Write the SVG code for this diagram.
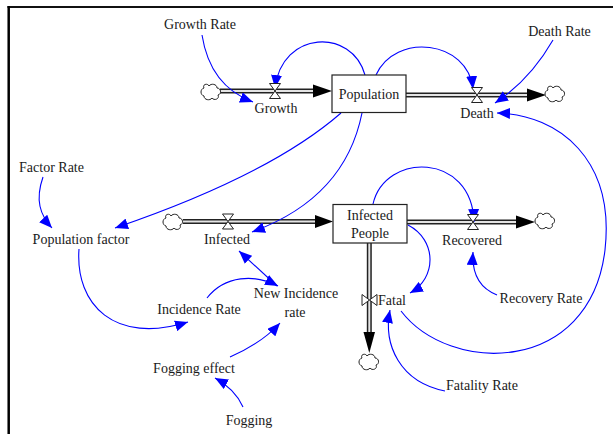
<svg xmlns="http://www.w3.org/2000/svg" width="613" height="434" viewBox="0 0 613 434">
<style>
text{font-family:"Liberation Serif","Times New Roman",serif;font-size:14px;fill:#1a1a1a;text-anchor:middle}
.link{fill:none;stroke:#0000ff;stroke-width:1.1}
.pipeo{fill:none;stroke:#222;stroke-width:5}
.pipei{fill:none;stroke:#e4e4e4;stroke-width:2}
.valve{fill:#fff;stroke:#222;stroke-width:1}
.cloud{fill:#fff;stroke:#222;stroke-width:1}
.stock{fill:#fff;stroke:#222;stroke-width:1.2}
.head{fill:#000}
</style>
<defs>
<marker id="ar" markerUnits="userSpaceOnUse" markerWidth="14" markerHeight="11" refX="13" refY="5.5" orient="auto">
<path d="M0,0 L13,5.5 L0,11 Z" fill="#0000ff"/>
</marker>
<path id="cl" d="M-7,-4 C-9,-8 -3,-9 -2,-6 C0,-9 6,-8 6,-4 C10,-4 11,2 7,3 C9,7 3,9 1,6 C-1,9 -7,8 -7,4 C-11,3 -11,-3 -7,-4 Z"/>
<path id="hv" d="M-5.5,-7.5 L5.5,-7.5 L0,0 Z M0,0 L-5.5,7.5 L5.5,7.5 Z"/>
</defs>
<rect width="613" height="434" fill="#fff"/>
<g id="frame">
<line x1="7.5" y1="7" x2="613" y2="7" stroke="#111" stroke-width="2"/>
<line x1="8.7" y1="6" x2="8.7" y2="434" stroke="#000" stroke-width="2.5"/>
</g>
<g id="flows">
<path class="pipeo" d="M220,91 H316"/><path class="pipei" d="M220,91 H316"/>
<path class="head" d="M313,84.5 L332,91 L313,97.5 Z"/>
<path class="pipeo" d="M406,95 H529"/><path class="pipei" d="M406,95 H529"/>
<path class="head" d="M527,88.5 L546,95 L527,101.5 Z"/>
<path class="pipeo" d="M183,221.5 H317"/><path class="pipei" d="M183,221.5 H317"/>
<path class="head" d="M315,215 L333,221.5 L315,228 Z"/>
<path class="pipeo" d="M407,222 H518"/><path class="pipei" d="M407,222 H518"/>
<path class="head" d="M516,215.5 L535,222 L516,228.5 Z"/>
<path class="pipeo" d="M369.3,243 V334"/><path class="pipei" d="M369.3,243 V334"/>
<path class="head" d="M363.5,332 L369.3,353 L375,332 Z"/>
</g>
<g id="clouds">
<use href="#cl" class="cloud" x="211" y="92"/>
<use href="#cl" class="cloud" x="555" y="94"/>
<use href="#cl" class="cloud" x="173" y="222"/>
<use href="#cl" class="cloud" x="545" y="221"/>
<use href="#cl" class="cloud" x="369" y="362"/>
</g>
<g id="connectors">
<path class="link" marker-end="url(#ar)" d="M202,35 Q210,86 253,102"/>
<path class="link" marker-end="url(#ar)" d="M365,75 C352,28 282,30 275,88"/>
<path class="link" marker-end="url(#ar)" d="M376,75 C395,32 468,40 473,89"/>
<path class="link" marker-end="url(#ar)" d="M553,40 Q530,80 495,103"/>
<path class="link" marker-end="url(#ar)" d="M401,311 C450,375 590,375 605,250 C615,160 560,115 497,113"/>
<path class="link" marker-end="url(#ar)" d="M341,113 Q270,175 115,228"/>
<path class="link" marker-end="url(#ar)" d="M362,113 Q345,198 252,232"/>
<path class="link" marker-end="url(#ar)" d="M373,204 C385,152 472,152 474,222"/>
<path class="link" marker-end="url(#ar)" d="M408,225 C437,240 437,278 410,293"/>
<path class="link" marker-end="url(#ar)" d="M497,295 Q471,285 473,252"/>
<path class="link" marker-end="url(#ar)" d="M445,391 C400,382 383,345 390,310"/>
<path class="link" marker-end="url(#ar)" d="M43,177 C35,200 40,215 52,228"/>
<path class="link" marker-end="url(#ar)" d="M79,249 C75,305 115,345 188,322"/>
<path class="link" marker-end="url(#ar)" d="M207,298 C225,275 255,274 278,286"/>
<path class="link" marker-end="url(#ar)" d="M277,286 L239,251"/>
<path class="link" marker-end="url(#ar)" d="M230,357 Q262,343 280,323"/>
<path class="link" marker-end="url(#ar)" d="M243,407 Q235,389 215,378"/>
</g>
<g id="population"><rect class="stock" x="332" y="75" width="74" height="37.5"/><text x="369" y="99">Population</text></g>
<g id="infected-people"><rect class="stock" x="333" y="204.5" width="74" height="38.5"/><text x="370" y="219.5">Infected</text><text x="370" y="238">People</text></g>
<g id="growth"><use href="#hv" class="valve" x="275" y="91"/><text x="276" y="113">Growth</text></g>
<g id="death"><use href="#hv" class="valve" x="477" y="95"/><text x="477" y="118">Death</text></g>
<g id="infected"><use href="#hv" class="valve" x="228" y="221.5"/><text x="227" y="244">Infected</text></g>
<g id="recovered"><use href="#hv" class="valve" x="473" y="222"/><text x="472" y="245">Recovered</text></g>
<g id="fatal"><use href="#hv" class="valve" transform="translate(369.5,300) rotate(90)"/><text x="392" y="305">Fatal</text></g>
<g id="growth-rate"><text x="200" y="29">Growth Rate</text></g>
<g id="death-rate"><text x="559.5" y="36">Death Rate</text></g>
<g id="factor-rate"><text x="51.5" y="172">Factor Rate</text></g>
<g id="population-factor"><text x="81" y="244">Population factor</text></g>
<g id="incidence-rate"><text x="199" y="314">Incidence Rate</text></g>
<g id="new-incidence-rate"><text x="296" y="298">New Incidence</text><text x="295" y="317">rate</text></g>
<g id="fogging-effect"><text x="194" y="373">Fogging effect</text></g>
<g id="fogging"><text x="249" y="425">Fogging</text></g>
<g id="recovery-rate"><text x="541" y="303">Recovery Rate</text></g>
<g id="fatality-rate"><text x="482" y="390">Fatality Rate</text></g>
</svg>
